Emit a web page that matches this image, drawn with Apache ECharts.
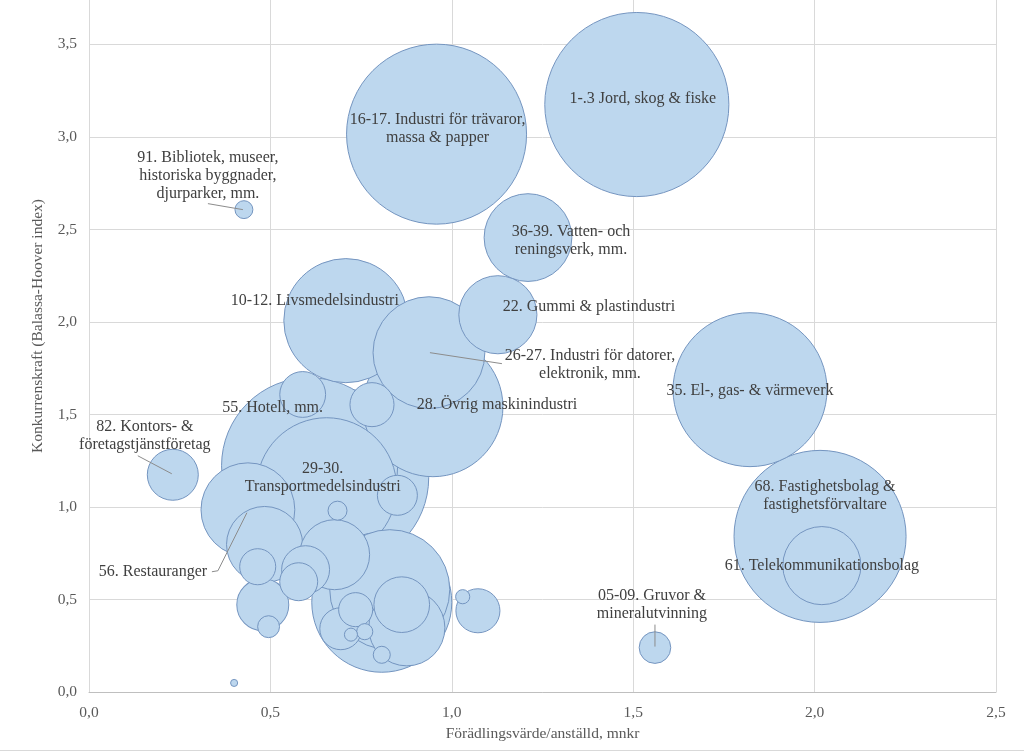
<!DOCTYPE html>
<html>
<head>
<meta charset="utf-8">
<script src="https://cdn.jsdelivr.net/npm/echarts@6/dist/echarts.min.js"></script>
<style>
html,body{margin:0;padding:0;background:#fff;}
#c{width:1024px;height:752px;}
</style>
</head>
<body>
<div id="c"></div>
<script>
// ---- data ----
const names = [
  '1-.3 Jord, skog & fiske',
  '16-17. Industri för trävaror,\nmassa & papper',
  '36-39. Vatten- och\nreningsverk, mm.',
  '22. Gummi & plastindustri',
  '10-12. Livsmedelsindustri',
  '26-27. Industri för datorer,\nelektronik, mm.',
  '28. Övrig maskinindustri',
  '35. El-, gas- & värmeverk',
  '68. Fastighetsbolag &\nfastighetsförvaltare',
  '61. Telekommunikationsbolag',
  '05-09. Gruvor &\nmineralutvinning',
  '91. Bibliotek, museer,\nhistoriska byggnader,\ndjurparker, mm.',
  '82. Kontors- &\nföretagstjänstföretag',
  '',
  '55. Hotell, mm.',
  '29-30.\nTransportmedelsindustri',
  '',
  '56. Restauranger',
  '', '', '', '', '', '', '', '', '', '', '', '', '', '', '', '', '', '', '', '', '', ''
];
const xs = [1.510, 0.958, 1.210, 1.127, 0.708, 0.937, 0.948, 1.822, 2.015, 2.020,
            1.560, 0.427, 0.231, 0.400, 0.608, 0.691, 0.655, 0.438, 0.484, 0.465,
            0.479, 0.495, 0.578, 0.597, 0.807, 0.829, 0.876, 0.862, 0.694, 0.735,
            0.760, 0.722, 0.807, 1.072, 1.030, 0.850, 0.685, 0.589, 0.780, 0.677];
const ys = [3.175, 3.015, 2.456, 2.039, 2.007, 1.834, 1.542, 1.634, 0.841, 0.683,
            0.240, 2.607, 1.174, 0.049, 1.223, 1.158, 1.104, 0.985, 0.797, 0.677,
            0.472, 0.353, 0.596, 0.661, 0.485, 0.553, 0.347, 0.472, 0.342, 0.445,
            0.326, 0.310, 0.201, 0.439, 0.515, 1.063, 0.980, 1.608, 1.553, 0.742];
const sizes = [339, 324, 77, 61, 154, 125, 196, 237, 296, 61,
               10, 3.2, 26, 0.5, 310, 317, 196, 88, 58, 13,
               27, 4.8, 14.4, 23, 196, 144, 58, 31, 17.6, 11.6,
               2.6, 1.7, 2.9, 19.4, 2.0, 16, 3.6, 21, 19.4, 49];
const xTicks = [0, 0.5, 1.0, 1.5, 2.0, 2.5];
const yTicks = [0, 0.5, 1.0, 1.5, 2.0, 2.5, 3.0, 3.5];

// ---- label placement (pixel offsets from bubble centre) ----
const labelCfg = {
  '1-.3 Jord, skog & fiske': {off: [6, -6]},
  '16-17. Industri för trävaror,\nmassa & papper': {off: [1, -5]},
  '36-39. Vatten- och\nreningsverk, mm.': {off: [43, 3]},
  '22. Gummi & plastindustri': {off: [91, -8]},
  '10-12. Livsmedelsindustri': {off: [-31, -20]},
  '26-27. Industri för datorer,\nelektronik, mm.': {off: [161, 12], line: [[73, 11], [1, 0]]},
  '28. Övrig maskinindustri': {off: [64, -2]},
  '35. El-, gas- & värmeverk': {off: [0, 1]},
  '68. Fastighetsbolag &\nfastighetsförvaltare': {off: [5, -41]},
  '61. Telekommunikationsbolag': {off: [0, 0]},
  '05-09. Gruvor &\nmineralutvinning': {off: [-3, -43], line: [[0, -23], [0, -1]]},
  '91. Bibliotek, museer,\nhistoriska byggnader,\ndjurparker, mm.': {off: [-36, -34], line: [[-36, -6], [-1, 0]]},
  '82. Kontors- &\nföretagstjänstföretag': {off: [-28, -39], line: [[-35, -19], [-1, -1]]},
  '55. Hotell, mm.': {off: [-37, -58]},
  '29-30.\nTransportmedelsindustri': {off: [-17, 0]},
  '56. Restauranger': {off: [-95, 62], line: [[-36, 62], [-30, 61], [-1, 3]]}
};

const FONT = "'Liberation Serif', 'Times New Roman', serif";
const fmt = v => v.toFixed(1).replace('.', ',');

// draw larger bubbles first so smaller ones sit on top
const order = sizes.map((s, i) => i).sort((a, b) => sizes[b] - sizes[a]);
const bubbleData = order.map(i => [xs[i], ys[i], sizes[i], i]);
const labelData = names.map((n, i) => [xs[i], ys[i], i]).filter(d => names[d[2]] !== '');

const chart = echarts.init(document.getElementById('c'), null, {renderer: 'canvas'});
chart.setOption({
  animation: false,
  backgroundColor: '#ffffff',
  grid: {left: 89, right: 28, top: 0, bottom: 60, containLabel: false},
  xAxis: {
    type: 'value', min: xTicks[0], max: xTicks[xTicks.length - 1], interval: 0.5,
    name: 'Förädlingsvärde/anställd, mnkr', nameLocation: 'middle', nameGap: 33,
    nameTextStyle: {fontFamily: FONT, fontSize: 15.5, color: '#595959'},
    axisLine: {show: true, lineStyle: {color: '#BFBFBF', width: 1}},
    axisTick: {show: false},
    axisLabel: {formatter: fmt, fontFamily: FONT, fontSize: 15.5, color: '#595959', margin: 13},
    splitLine: {show: true, lineStyle: {color: '#D9D9D9', width: 1}}
  },
  yAxis: {
    type: 'value', min: yTicks[0], max: 3.74, interval: 0.5,
    name: 'Konkurrenskraft (Balassa-Hoover index)', nameLocation: 'middle', nameGap: 43,
    nameTextStyle: {fontFamily: FONT, fontSize: 15.5, color: '#595959', padding: [0, 0, 0, 40]},
    axisLine: {show: false},
    axisTick: {show: false},
    axisLabel: {
      formatter: v => (yTicks.some(t => Math.abs(t - v) < 1e-9) ? fmt(v) : ''),
      fontFamily: FONT, fontSize: 15.5, color: '#595959', margin: 12, showMaxLabel: false
    },
    splitLine: {show: true, showMaxLine: false, lineStyle: {color: '#D9D9D9', width: 1}}
  },
  series: [
    {
      type: 'scatter',
      data: bubbleData,
      symbol: 'circle',
      symbolSize: d => Math.sqrt(d[2]) * 10,
      itemStyle: {color: '#BDD7EE', borderColor: '#7495C0', borderWidth: 1, opacity: 1},
      emphasis: {disabled: true},
      z: 2
    },
    {
      type: 'custom',
      data: labelData,
      clip: false,
      z: 10,
      silent: true,
      renderItem: function (params, api) {
        const c = api.coord([api.value(0), api.value(1)]);
        const name = names[api.value(2)];
        const cfg = labelCfg[name] || {off: [0, 0]};
        const children = [];
        if (cfg.line) {
          children.push({
            type: 'polyline',
            shape: {points: cfg.line.map(p => [c[0] + p[0], c[1] + p[1]])},
            style: {stroke: '#8C8C8C', lineWidth: 1, fill: null}
          });
        }
        children.push({
          type: 'text',
          x: c[0] + cfg.off[0],
          y: c[1] + cfg.off[1],
          style: {
            text: name, fontFamily: FONT, fontSize: 16, fill: '#404040',
            align: 'center', verticalAlign: 'middle', lineHeight: 18
          }
        });
        return {type: 'group', children: children};
      }
    }
  ],
  graphic: [
    {type: 'line', shape: {x1: 0, y1: 750.5, x2: 1024, y2: 750.5}, style: {stroke: '#D9D9D9', lineWidth: 1}}
  ]
});
</script>
</body>
</html>
